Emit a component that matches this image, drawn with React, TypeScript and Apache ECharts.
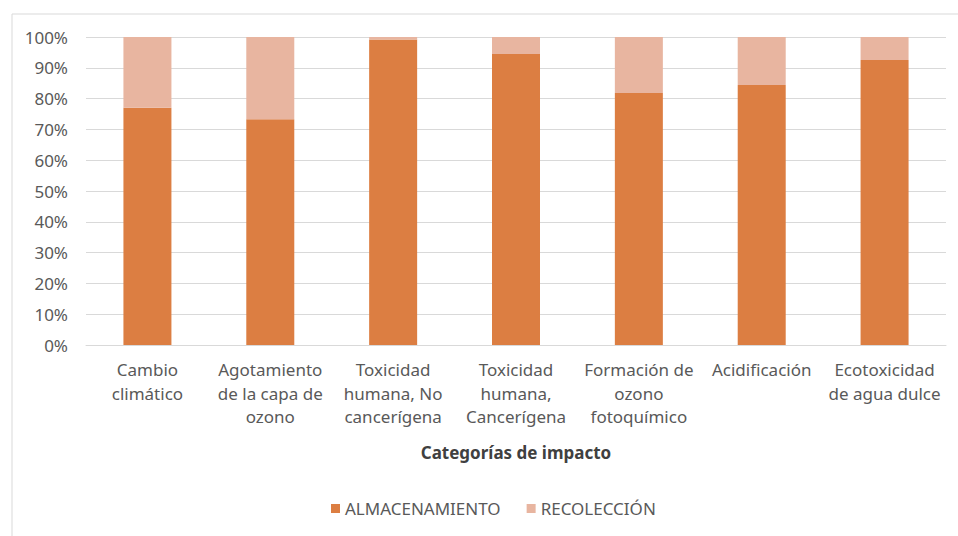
import React, { useEffect, useRef } from "react";
import * as echarts from "echarts";

const categories = [
  "Cambio\nclimático",
  "Agotamiento\nde la capa de\nozono",
  "Toxicidad\nhumana, No\ncancerígena",
  "Toxicidad\nhumana,\nCancerígena",
  "Formación de\nozono\nfotoquímico",
  "Acidificación",
  "Ecotoxicidad\nde agua dulce",
];
const almacenamiento = [77, 73.3, 99.2, 94.5, 81.8, 84.4, 92.5];
const recoleccion = [23, 26.7, 0.8, 5.5, 18.2, 15.6, 7.5];
const axisTitle = "Categorías de impacto";
const seriesNames = ["ALMACENAMIENTO", "RECOLECCIÓN"];

const FONT = "'Noto Sans', 'Liberation Sans', sans-serif";

export default function App() {
  const ref = useRef<HTMLDivElement>(null);
  useEffect(() => {
    if (!ref.current) return;
    const chart = echarts.init(ref.current, null, { renderer: "svg" });
    chart.setOption({
      animation: false,
      backgroundColor: "#ffffff",
      graphic: [
        {
          type: "rect",
          shape: { x: 12, y: 14, width: 980, height: 560 },
          style: { fill: "none", stroke: "#d9d9d9", lineWidth: 1 },
          silent: true,
        },
      ],
      grid: { left: 86, right: 12, top: 37, bottom: 191, containLabel: false },
      legend: {
        data: seriesNames,
        left: 326,
        top: 495,
        itemWidth: 9,
        itemHeight: 9,
        itemGap: 26,
        icon: "rect",
        textStyle: { fontFamily: FONT, fontSize: 17, color: "#595959" },
      },
      xAxis: {
        type: "category",
        data: categories,
        name: axisTitle,
        nameLocation: "middle",
        nameGap: 99,
        nameTextStyle: { fontFamily: FONT, fontSize: 17, fontWeight: "bold", color: "#404040" },
        axisLine: { lineStyle: { color: "#d9d9d9" } },
        axisTick: { show: false },
        axisLabel: {
          interval: 0,
          margin: 13,
          fontFamily: FONT,
          fontSize: 17,
          lineHeight: 23.5,
          color: "#595959",
        },
      },
      yAxis: {
        type: "value",
        min: 0,
        max: 100,
        interval: 10,
        axisLabel: {
          formatter: "{value}%",
          margin: 18,
          fontFamily: FONT,
          fontSize: 17,
          color: "#595959",
        },
        splitLine: { lineStyle: { color: "#d9d9d9" } },
        axisLine: { show: false },
        axisTick: { show: false },
      },
      series: [
        {
          name: seriesNames[0],
          type: "bar",
          stack: "total",
          barWidth: 48,
          data: almacenamiento,
          itemStyle: { color: "#dc7e42" },
        },
        {
          name: seriesNames[1],
          type: "bar",
          stack: "total",
          barWidth: 48,
          data: recoleccion,
          itemStyle: { color: "#e8b5a0" },
        },
      ],
    });
    return () => chart.dispose();
  }, []);
  return (
    <div
      ref={ref}
      style={{ position: "fixed", left: 0, top: 0, width: 958, height: 536, background: "#fff" }}
    />
  );
}
